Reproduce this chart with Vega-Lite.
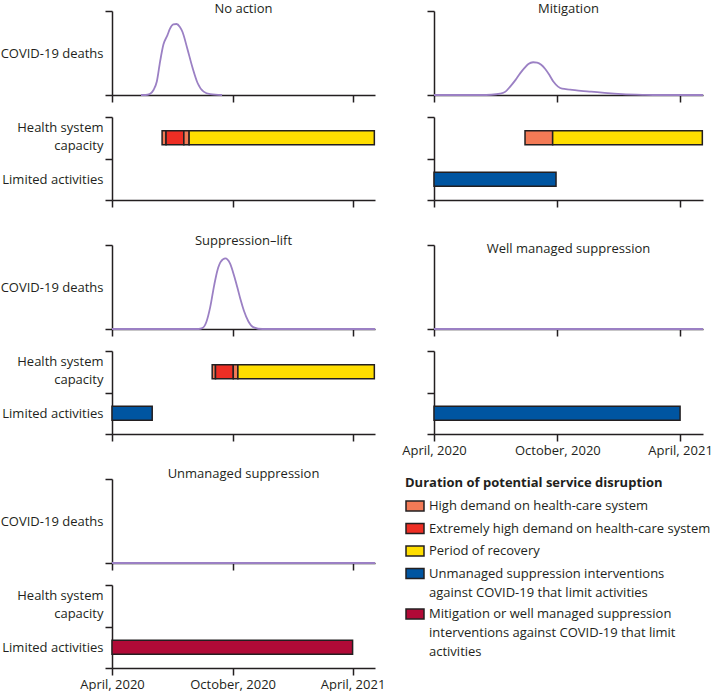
{
  "$schema": "https://vega.github.io/schema/vega-lite/v6.json",
  "padding": {"left": 0, "top": 0, "right": 0, "bottom": 0},
  "background": "white",
  "config": {
    "font": "Open Sans",
    "view": {"stroke": null},
    "style": {"guide-label": {"lineHeight": 19}},
    "axis": {"domainColor": "#231f20", "tickColor": "#231f20", "domainWidth": 1.5, "tickWidth": 1.5, "tickSize": 7, "grid": false, "labelFont": "Open Sans", "labelFontSize": 13, "labelColor": "#231f20", "titleFont": "Open Sans", "titleFontSize": 13, "titleFontWeight": "normal", "titleColor": "#231f20"},
    "title": {"font": "Open Sans", "fontSize": 13, "fontWeight": "normal", "color": "#231f20", "baseline": "alphabetic", "frame": "group", "anchor": "middle"}
  },
  "datasets": {
    "deaths": [
      {"scenario": "No action", "date": "2020-05-15", "deaths": 0},
      {"scenario": "No action", "date": "2020-05-22", "deaths": 0},
      {"scenario": "No action", "date": "2020-05-28", "deaths": 1},
      {"scenario": "No action", "date": "2020-06-03", "deaths": 6},
      {"scenario": "No action", "date": "2020-06-08", "deaths": 16},
      {"scenario": "No action", "date": "2020-06-13", "deaths": 40},
      {"scenario": "No action", "date": "2020-06-18", "deaths": 60},
      {"scenario": "No action", "date": "2020-06-24", "deaths": 71},
      {"scenario": "No action", "date": "2020-06-28", "deaths": 79},
      {"scenario": "No action", "date": "2020-07-03", "deaths": 84},
      {"scenario": "No action", "date": "2020-07-08", "deaths": 84.5},
      {"scenario": "No action", "date": "2020-07-13", "deaths": 81},
      {"scenario": "No action", "date": "2020-07-17", "deaths": 75},
      {"scenario": "No action", "date": "2020-07-24", "deaths": 56},
      {"scenario": "No action", "date": "2020-08-01", "deaths": 33},
      {"scenario": "No action", "date": "2020-08-09", "deaths": 14},
      {"scenario": "No action", "date": "2020-08-18", "deaths": 4},
      {"scenario": "No action", "date": "2020-08-28", "deaths": 1},
      {"scenario": "No action", "date": "2020-09-15", "deaths": 0},
      {"scenario": "Mitigation", "date": "2020-04-01", "deaths": 0},
      {"scenario": "Mitigation", "date": "2020-06-10", "deaths": 0},
      {"scenario": "Mitigation", "date": "2020-06-25", "deaths": 0.3},
      {"scenario": "Mitigation", "date": "2020-07-08", "deaths": 1.5},
      {"scenario": "Mitigation", "date": "2020-07-16", "deaths": 4},
      {"scenario": "Mitigation", "date": "2020-07-23", "deaths": 10},
      {"scenario": "Mitigation", "date": "2020-07-31", "deaths": 18},
      {"scenario": "Mitigation", "date": "2020-08-07", "deaths": 26},
      {"scenario": "Mitigation", "date": "2020-08-13", "deaths": 32},
      {"scenario": "Mitigation", "date": "2020-08-19", "deaths": 37},
      {"scenario": "Mitigation", "date": "2020-08-26", "deaths": 39},
      {"scenario": "Mitigation", "date": "2020-09-01", "deaths": 38.5},
      {"scenario": "Mitigation", "date": "2020-09-07", "deaths": 36},
      {"scenario": "Mitigation", "date": "2020-09-13", "deaths": 31},
      {"scenario": "Mitigation", "date": "2020-09-19", "deaths": 24},
      {"scenario": "Mitigation", "date": "2020-09-25", "deaths": 16},
      {"scenario": "Mitigation", "date": "2020-10-02", "deaths": 10},
      {"scenario": "Mitigation", "date": "2020-10-08", "deaths": 7.5},
      {"scenario": "Mitigation", "date": "2020-10-20", "deaths": 6.5},
      {"scenario": "Mitigation", "date": "2020-11-05", "deaths": 5},
      {"scenario": "Mitigation", "date": "2020-11-20", "deaths": 4},
      {"scenario": "Mitigation", "date": "2020-12-10", "deaths": 2.5},
      {"scenario": "Mitigation", "date": "2021-01-05", "deaths": 1},
      {"scenario": "Mitigation", "date": "2021-02-05", "deaths": 0.2},
      {"scenario": "Mitigation", "date": "2021-02-20", "deaths": 0},
      {"scenario": "Mitigation", "date": "2021-05-05", "deaths": 0},
      {"scenario": "Suppression–lift", "date": "2020-04-01", "deaths": 0},
      {"scenario": "Suppression–lift", "date": "2020-08-10", "deaths": 0},
      {"scenario": "Suppression–lift", "date": "2020-08-16", "deaths": 1},
      {"scenario": "Suppression–lift", "date": "2020-08-22", "deaths": 8},
      {"scenario": "Suppression–lift", "date": "2020-08-28", "deaths": 26},
      {"scenario": "Suppression–lift", "date": "2020-09-03", "deaths": 52},
      {"scenario": "Suppression–lift", "date": "2020-09-08", "deaths": 70},
      {"scenario": "Suppression–lift", "date": "2020-09-13", "deaths": 80},
      {"scenario": "Suppression–lift", "date": "2020-09-20", "deaths": 84},
      {"scenario": "Suppression–lift", "date": "2020-09-27", "deaths": 78},
      {"scenario": "Suppression–lift", "date": "2020-10-03", "deaths": 64},
      {"scenario": "Suppression–lift", "date": "2020-10-08", "deaths": 50},
      {"scenario": "Suppression–lift", "date": "2020-10-13", "deaths": 35},
      {"scenario": "Suppression–lift", "date": "2020-10-18", "deaths": 22},
      {"scenario": "Suppression–lift", "date": "2020-10-25", "deaths": 9},
      {"scenario": "Suppression–lift", "date": "2020-11-02", "deaths": 2},
      {"scenario": "Suppression–lift", "date": "2020-11-15", "deaths": 0},
      {"scenario": "Suppression–lift", "date": "2021-05-05", "deaths": 0},
      {"scenario": "Well managed suppression", "date": "2020-04-01", "deaths": 0},
      {"scenario": "Well managed suppression", "date": "2021-05-05", "deaths": 0},
      {"scenario": "Unmanaged suppression", "date": "2020-04-01", "deaths": 0},
      {"scenario": "Unmanaged suppression", "date": "2021-05-05", "deaths": 0}
    ],
    "bars": [
      {"scenario": "No action", "lane": "Health system capacity", "category": "High demand on health-care system", "start": "2020-06-16", "end": "2020-06-22"},
      {"scenario": "No action", "lane": "Health system capacity", "category": "Extremely high demand on health-care system", "start": "2020-06-22", "end": "2020-07-19"},
      {"scenario": "No action", "lane": "Health system capacity", "category": "High demand on health-care system", "start": "2020-07-19", "end": "2020-07-27"},
      {"scenario": "No action", "lane": "Health system capacity", "category": "Period of recovery", "start": "2020-07-27", "end": "2021-05-04"},
      {"scenario": "Mitigation", "lane": "Health system capacity", "category": "High demand on health-care system", "start": "2020-08-14", "end": "2020-09-24"},
      {"scenario": "Mitigation", "lane": "Health system capacity", "category": "Period of recovery", "start": "2020-09-24", "end": "2021-05-04"},
      {"scenario": "Mitigation", "lane": "Limited activities", "category": "Unmanaged suppression interventions against COVID-19 that limit activities", "start": "2020-04-01", "end": "2020-09-29"},
      {"scenario": "Suppression–lift", "lane": "Health system capacity", "category": "High demand on health-care system", "start": "2020-08-31", "end": "2020-09-05"},
      {"scenario": "Suppression–lift", "lane": "Health system capacity", "category": "Extremely high demand on health-care system", "start": "2020-09-05", "end": "2020-10-02"},
      {"scenario": "Suppression–lift", "lane": "Health system capacity", "category": "High demand on health-care system", "start": "2020-10-02", "end": "2020-10-09"},
      {"scenario": "Suppression–lift", "lane": "Health system capacity", "category": "Period of recovery", "start": "2020-10-09", "end": "2021-05-04"},
      {"scenario": "Suppression–lift", "lane": "Limited activities", "category": "Unmanaged suppression interventions against COVID-19 that limit activities", "start": "2020-04-01", "end": "2020-06-01"},
      {"scenario": "Well managed suppression", "lane": "Limited activities", "category": "Unmanaged suppression interventions against COVID-19 that limit activities", "start": "2020-04-01", "end": "2021-04-01"},
      {"scenario": "Unmanaged suppression", "lane": "Limited activities", "category": "Mitigation or well managed suppression interventions against COVID-19 that limit activities", "start": "2020-04-01", "end": "2021-04-01"}
    ]
  },
  "columns": 2,
  "bounds": "flush",
  "spacing": {"row": 22, "column": 59},
  "resolve": {"scale": {"color": "shared"}, "legend": {"color": "shared"}},
  "concat": [
    {
      "title": {"text": "No action", "offset": -16},
      "width": 263, "height": 95,
      "data": {"name": "deaths"},
      "transform": [{"filter": "datum.scenario === 'No action'"}],
      "mark": {"type": "line", "color": "#9b80c4", "strokeWidth": 1.8, "interpolate": "monotone"},
      "encoding": {
        "x": {"field": "date", "type": "temporal", "scale": {"type": "utc", "domain": [{"year": 2020, "month": 4, "date": 1, "utc": true}, {"year": 2021, "month": 5, "date": 5, "utc": true}]}, "axis": {"values": [{"year": 2020, "month": 4, "date": 1, "utc": true}, {"year": 2020, "month": 10, "date": 1, "utc": true}, {"year": 2021, "month": 4, "date": 1, "utc": true}], "labels": false, "title": null}},
        "y": {"field": "deaths", "type": "quantitative", "scale": {"domain": [0, 100], "range": [95, 11]}, "axis": {"values": [0, 100], "labels": false, "title": "COVID-19 deaths", "titleAngle": 0, "titleAlign": "right", "titleBaseline": "middle", "titleX": -9, "titleY": 53}}
      }
    },
    {
      "title": {"text": "Mitigation", "offset": -16},
      "width": 269, "height": 95,
      "data": {"name": "deaths"},
      "transform": [{"filter": "datum.scenario === 'Mitigation'"}],
      "mark": {"type": "line", "color": "#9b80c4", "strokeWidth": 1.8, "interpolate": "monotone"},
      "encoding": {
        "x": {"field": "date", "type": "temporal", "scale": {"type": "utc", "domain": [{"year": 2020, "month": 4, "date": 1, "utc": true}, {"year": 2021, "month": 5, "date": 5, "utc": true}]}, "axis": {"values": [{"year": 2020, "month": 4, "date": 1, "utc": true}, {"year": 2020, "month": 10, "date": 1, "utc": true}, {"year": 2021, "month": 4, "date": 1, "utc": true}], "labels": false, "title": null}},
        "y": {"field": "deaths", "type": "quantitative", "scale": {"domain": [0, 100], "range": [95, 11]}, "axis": {"values": [0, 100], "labels": false, "title": null}}
      }
    },
    {
      "width": 263, "height": 83,
      "data": {"name": "bars"},
      "transform": [{"filter": "datum.scenario === 'No action'"}],
      "mark": {"type": "bar", "height": {"band": 0.34}, "stroke": "#231f20", "strokeWidth": 1.5},
      "encoding": {
        "y": {"field": "lane", "type": "nominal", "scale": {"domain": ["Health system capacity", "Limited activities"], "paddingInner": 0, "paddingOuter": 0}, "axis": {"tickBand": "extent", "title": null, "labelExpr": "datum.value === 'Health system capacity' ? ['Health system', 'capacity'] : datum.value", "labelPadding": 2, "labelLineHeight": 18, "labelOffset": {"condition": {"test": "datum.value === 'Health system capacity'", "value": -10}, "value": 0}}},
        "x": {"field": "start", "type": "temporal", "scale": {"type": "utc", "domain": [{"year": 2020, "month": 4, "date": 1, "utc": true}, {"year": 2021, "month": 5, "date": 5, "utc": true}]}, "axis": {"values": [{"year": 2020, "month": 4, "date": 1, "utc": true}, {"year": 2020, "month": 10, "date": 1, "utc": true}, {"year": 2021, "month": 4, "date": 1, "utc": true}], "labels": false, "title": null}},
        "x2": {"field": "end"},
        "color": {"field": "category", "type": "nominal",
          "scale": {"domain": ["High demand on health-care system", "Extremely high demand on health-care system", "Period of recovery", "Unmanaged suppression interventions against COVID-19 that limit activities", "Mitigation or well managed suppression interventions against COVID-19 that limit activities"], "range": ["#f37a56", "#ee2e24", "#ffde00", "#0055a1", "#b10a37"]},
          "legend": {"orient": "none", "legendX": 293, "legendY": 477, "title": "Duration of potential service disruption", "titleFont": "Open Sans", "titleFontSize": 13, "titleFontWeight": "bold", "titleColor": "#231f20", "titlePadding": 6, "titleLimit": 400, "labelFont": "Open Sans", "labelFontSize": 13, "labelColor": "#231f20", "labelLimit": 400, "labelOffset": 4, "symbolType": "M-1,-0.55H1V0.55H-1Z", "symbolSize": 324, "symbolStrokeColor": "#231f20", "symbolStrokeWidth": 1.5, "symbolOpacity": 1, "rowPadding": 4.5, "padding": 0,
            "labelExpr": "datum.value === 'Unmanaged suppression interventions against COVID-19 that limit activities' ? ['Unmanaged suppression interventions', 'against COVID-19 that limit activities'] : datum.value === 'Mitigation or well managed suppression interventions against COVID-19 that limit activities' ? ['Mitigation or well managed suppression', 'interventions against COVID-19 that limit', 'activities'] : datum.value"}}
      }
    },
    {
      "width": 269, "height": 83,
      "data": {"name": "bars"},
      "transform": [{"filter": "datum.scenario === 'Mitigation'"}],
      "mark": {"type": "bar", "height": {"band": 0.34}, "stroke": "#231f20", "strokeWidth": 1.5},
      "encoding": {
        "y": {"field": "lane", "type": "nominal", "scale": {"domain": ["Health system capacity", "Limited activities"], "paddingInner": 0, "paddingOuter": 0}, "axis": {"tickBand": "extent", "title": null, "labels": false}},
        "x": {"field": "start", "type": "temporal", "scale": {"type": "utc", "domain": [{"year": 2020, "month": 4, "date": 1, "utc": true}, {"year": 2021, "month": 5, "date": 5, "utc": true}]}, "axis": {"values": [{"year": 2020, "month": 4, "date": 1, "utc": true}, {"year": 2020, "month": 10, "date": 1, "utc": true}, {"year": 2021, "month": 4, "date": 1, "utc": true}], "labels": false, "title": null}},
        "x2": {"field": "end"},
        "color": {"field": "category", "type": "nominal"}
      }
    },
    {
      "title": {"text": "Suppression–lift", "offset": -26},
      "width": 263, "height": 107,
      "data": {"name": "deaths"},
      "transform": [{"filter": "datum.scenario === 'Suppression–lift'"}],
      "mark": {"type": "line", "color": "#9b80c4", "strokeWidth": 1.8, "interpolate": "monotone"},
      "encoding": {
        "x": {"field": "date", "type": "temporal", "scale": {"type": "utc", "domain": [{"year": 2020, "month": 4, "date": 1, "utc": true}, {"year": 2021, "month": 5, "date": 5, "utc": true}]}, "axis": {"values": [{"year": 2020, "month": 4, "date": 1, "utc": true}, {"year": 2020, "month": 10, "date": 1, "utc": true}, {"year": 2021, "month": 4, "date": 1, "utc": true}], "labels": false, "title": null}},
        "y": {"field": "deaths", "type": "quantitative", "scale": {"domain": [0, 100], "range": [107, 23]}, "axis": {"values": [0, 100], "labels": false, "title": "COVID-19 deaths", "titleAngle": 0, "titleAlign": "right", "titleBaseline": "middle", "titleX": -9, "titleY": 65}}
      }
    },
    {
      "title": {"text": "Well managed suppression", "offset": -34},
      "width": 269, "height": 107,
      "data": {"name": "deaths"},
      "transform": [{"filter": "datum.scenario === 'Well managed suppression'"}],
      "mark": {"type": "line", "color": "#9b80c4", "strokeWidth": 1.8, "interpolate": "monotone"},
      "encoding": {
        "x": {"field": "date", "type": "temporal", "scale": {"type": "utc", "domain": [{"year": 2020, "month": 4, "date": 1, "utc": true}, {"year": 2021, "month": 5, "date": 5, "utc": true}]}, "axis": {"values": [{"year": 2020, "month": 4, "date": 1, "utc": true}, {"year": 2020, "month": 10, "date": 1, "utc": true}, {"year": 2021, "month": 4, "date": 1, "utc": true}], "labels": false, "title": null}},
        "y": {"field": "deaths", "type": "quantitative", "scale": {"domain": [0, 100], "range": [107, 23]}, "axis": {"values": [0, 100], "labels": false, "title": null}}
      }
    },
    {
      "width": 263, "height": 83,
      "data": {"name": "bars"},
      "transform": [{"filter": "datum.scenario === 'Suppression–lift'"}],
      "mark": {"type": "bar", "height": {"band": 0.34}, "stroke": "#231f20", "strokeWidth": 1.5},
      "encoding": {
        "y": {"field": "lane", "type": "nominal", "scale": {"domain": ["Health system capacity", "Limited activities"], "paddingInner": 0, "paddingOuter": 0}, "axis": {"tickBand": "extent", "title": null, "labelExpr": "datum.value === 'Health system capacity' ? ['Health system', 'capacity'] : datum.value", "labelPadding": 2, "labelLineHeight": 18, "labelOffset": {"condition": {"test": "datum.value === 'Health system capacity'", "value": -10}, "value": 0}}},
        "x": {"field": "start", "type": "temporal", "scale": {"type": "utc", "domain": [{"year": 2020, "month": 4, "date": 1, "utc": true}, {"year": 2021, "month": 5, "date": 5, "utc": true}]}, "axis": {"values": [{"year": 2020, "month": 4, "date": 1, "utc": true}, {"year": 2020, "month": 10, "date": 1, "utc": true}, {"year": 2021, "month": 4, "date": 1, "utc": true}], "labels": false, "title": null}},
        "x2": {"field": "end"},
        "color": {"field": "category", "type": "nominal"}
      }
    },
    {
      "width": 269, "height": 83,
      "data": {"name": "bars"},
      "transform": [{"filter": "datum.scenario === 'Well managed suppression'"}],
      "mark": {"type": "bar", "height": {"band": 0.34}, "stroke": "#231f20", "strokeWidth": 1.5},
      "encoding": {
        "y": {"field": "lane", "type": "nominal", "scale": {"domain": ["Health system capacity", "Limited activities"], "paddingInner": 0, "paddingOuter": 0}, "axis": {"tickBand": "extent", "title": null, "labels": false}},
        "x": {"field": "start", "type": "temporal", "scale": {"type": "utc", "domain": [{"year": 2020, "month": 4, "date": 1, "utc": true}, {"year": 2021, "month": 5, "date": 5, "utc": true}]}, "axis": {"values": [{"year": 2020, "month": 4, "date": 1, "utc": true}, {"year": 2020, "month": 10, "date": 1, "utc": true}, {"year": 2021, "month": 4, "date": 1, "utc": true}], "labels": true, "labelExpr": "utcFormat(datum.value, '%B, %Y')", "labelPadding": 3, "labelFlush": false, "labelOverlap": false, "title": null}},
        "x2": {"field": "end"},
        "color": {"field": "category", "type": "nominal"}
      }
    },
    {
      "title": {"text": "Unmanaged suppression", "offset": -25},
      "width": 263, "height": 107,
      "data": {"name": "deaths"},
      "transform": [{"filter": "datum.scenario === 'Unmanaged suppression'"}],
      "mark": {"type": "line", "color": "#9b80c4", "strokeWidth": 1.8, "interpolate": "monotone"},
      "encoding": {
        "x": {"field": "date", "type": "temporal", "scale": {"type": "utc", "domain": [{"year": 2020, "month": 4, "date": 1, "utc": true}, {"year": 2021, "month": 5, "date": 5, "utc": true}]}, "axis": {"values": [{"year": 2020, "month": 4, "date": 1, "utc": true}, {"year": 2020, "month": 10, "date": 1, "utc": true}, {"year": 2021, "month": 4, "date": 1, "utc": true}], "labels": false, "title": null}},
        "y": {"field": "deaths", "type": "quantitative", "scale": {"domain": [0, 100], "range": [107, 23]}, "axis": {"values": [0, 100], "labels": false, "title": "COVID-19 deaths", "titleAngle": 0, "titleAlign": "right", "titleBaseline": "middle", "titleX": -9, "titleY": 65}}
      }
    },
    {
      "width": 269, "height": 107,
      "data": {"values": []},
      "mark": {"type": "point", "opacity": 0}
    },
    {
      "width": 263, "height": 83,
      "data": {"name": "bars"},
      "transform": [{"filter": "datum.scenario === 'Unmanaged suppression'"}],
      "mark": {"type": "bar", "height": {"band": 0.34}, "stroke": "#231f20", "strokeWidth": 1.5},
      "encoding": {
        "y": {"field": "lane", "type": "nominal", "scale": {"domain": ["Health system capacity", "Limited activities"], "paddingInner": 0, "paddingOuter": 0}, "axis": {"tickBand": "extent", "title": null, "labelExpr": "datum.value === 'Health system capacity' ? ['Health system', 'capacity'] : datum.value", "labelPadding": 2, "labelLineHeight": 18, "labelOffset": {"condition": {"test": "datum.value === 'Health system capacity'", "value": -10}, "value": 0}}},
        "x": {"field": "start", "type": "temporal", "scale": {"type": "utc", "domain": [{"year": 2020, "month": 4, "date": 1, "utc": true}, {"year": 2021, "month": 5, "date": 5, "utc": true}]}, "axis": {"values": [{"year": 2020, "month": 4, "date": 1, "utc": true}, {"year": 2020, "month": 10, "date": 1, "utc": true}, {"year": 2021, "month": 4, "date": 1, "utc": true}], "labels": true, "labelExpr": "utcFormat(datum.value, '%B, %Y')", "labelPadding": 3, "labelFlush": false, "labelOverlap": false, "title": null}},
        "x2": {"field": "end"},
        "color": {"field": "category", "type": "nominal"}
      }
    }
  ]
}
